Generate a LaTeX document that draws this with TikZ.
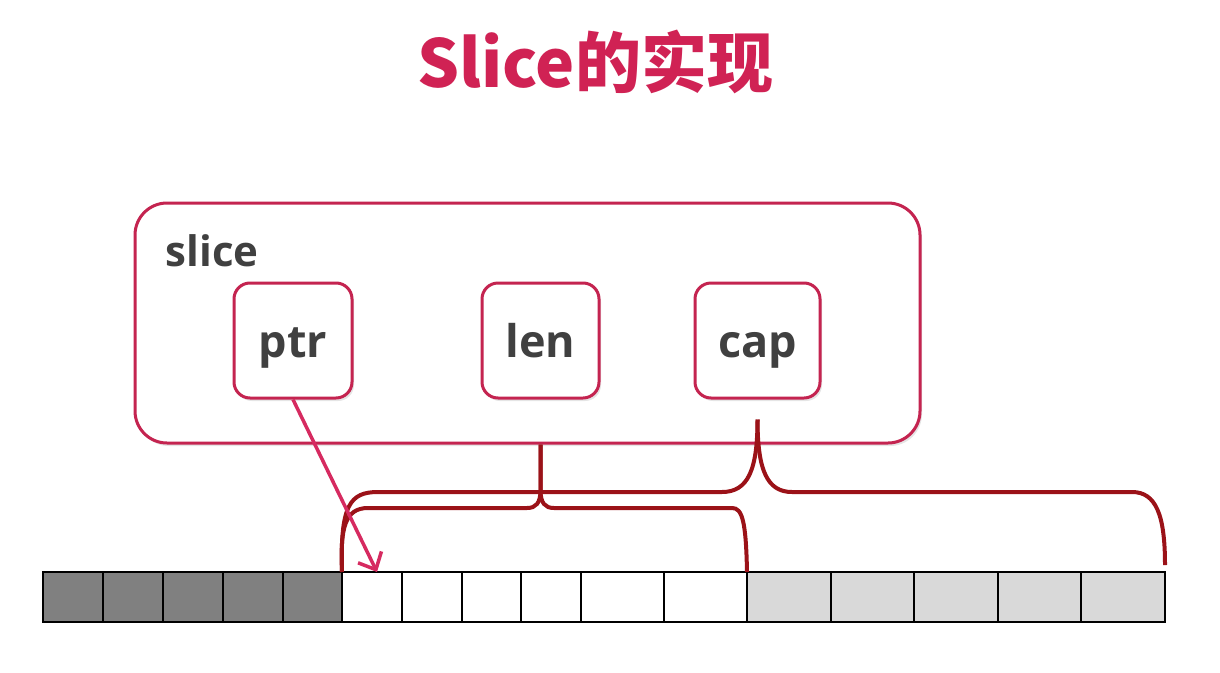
\documentclass[tikz,border=0pt]{standalone}
\usepackage{fontspec}
\setmainfont{Open Sans}
\newfontfamily\titlefont{Noto Sans CJK SC}
\usetikzlibrary{positioning,calc,arrows.meta,shadows}

\definecolor{titlered}{RGB}{208,34,84}
\definecolor{boxred}{RGB}{196,36,80}
\definecolor{bracered}{RGB}{155,18,24}
\definecolor{arrowred}{RGB}{214,42,96}
\definecolor{labelgray}{RGB}{64,64,64}
\definecolor{usedcell}{RGB}{128,128,128}
\definecolor{freecell}{RGB}{255,255,255}
\definecolor{sparecell}{RGB}{217,217,217}

\begin{document}
\begin{tikzpicture}
[x=1pt,y=-1pt,
 outer/.style = {draw=boxred, line width=3pt, rounded corners=32pt, fill=white, inner sep=0pt,
   drop shadow={shadow xshift=2pt, shadow yshift=-3pt, opacity=.2}},
 field/.style = {draw=boxred, line width=3pt, rounded corners=16pt, fill=white, minimum height=115pt,
   text height=34pt, text depth=0pt, text=labelgray, font=\bfseries\fontsize{45}{45}\selectfont,
   drop shadow={shadow xshift=2pt, shadow yshift=-3pt, opacity=.2}},
 cell/.style = {draw=black, line width=2pt, minimum height=50pt, inner sep=0pt, outer sep=0pt},
 brace/.style = {draw=bracered, line width=4pt},
 ptrarrow/.style = {draw=arrowred, line width=3.5pt, -{Straight Barb[length=14pt,width=26pt]}},]
\useasboundingbox (0,0) rectangle (1220,672);
\fill[white] (0,0) rectangle (1220,672);

\node (title) at (595,62)[font=\titlefont\bfseries\fontsize{66}{66}\selectfont, text=titlered] {Slice的实现};

% the slice header
\node (slice) at (527.5,323)[outer, minimum width=785pt, minimum height=240pt] {};
\node (slicelabel) at (162,266)[anchor=base west, text=labelgray, font=\bfseries\fontsize{42}{42}\selectfont] {slice};
\node (ptr) at (293,340.5)[field, minimum width=118pt] {ptr};
\node (len) at (540.5,340.5)[field, minimum width=117pt] {len};
\node (cap) at (757.5,340.5)[field, minimum width=125pt] {cap};

% the underlying array
\foreach \xa/\xb/\fillc [count=\i] in {43/103/usedcell,103/163/usedcell,163/223/usedcell,223/283/usedcell,283/342/usedcell,
  342/402/freecell,402/462/freecell,462/521/freecell,521/581/freecell,581/664/freecell,664/747/freecell,
  747/831/sparecell,831/914/sparecell,914/998/sparecell,998/1081/sparecell,1081/1165/sparecell}
  \node (c\i) at ({(\xa+\xb)/2},597)[cell, fill=\fillc, minimum width={(\xb-\xa)*1pt}] {};

\coordinate (lentip) at (len |- slice.south);
\coordinate (captip) at ($(cap.south)+(0,20)$);
\coordinate (capend) at ($(c16.north east)+(0,-7)$);

% len brace
\draw[brace] (c6.north west) .. controls (340,528) and (345,508) .. (368,508)
  -- (527,508) .. controls (536,508) and (540.5,503) .. (540.5,490) -- (lentip);
\draw[brace] (lentip) -- (540.5,490) .. controls (540.5,503) and (545,508) .. (554,508)
  -- (732,508) .. controls (742,508) and (746,520) .. (c11.north east);

% cap brace
\draw[brace] (c6.north west) .. controls (340,505) and (350,492) .. (378,492)
  -- (722,492) .. controls (748,492) and (757.5,470) .. (captip);
\draw[brace] (captip) .. controls (757.5,470) and (767,492) .. (792,492)
  -- (1132,492) .. controls (1156,492) and (1165,515) .. (capend);

\draw[ptrarrow] (ptr.south) -- ($(c6.north)+(5,0)$);

\end{tikzpicture}
\end{document}
